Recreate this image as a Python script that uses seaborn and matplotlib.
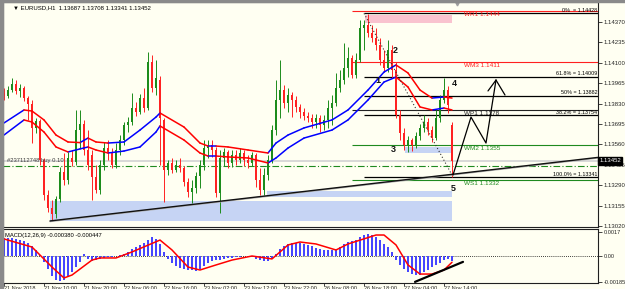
import numpy as np
import pandas as pd
import matplotlib
matplotlib.use("Agg")
import matplotlib.pyplot as plt
import matplotlib.transforms as mtransforms
from matplotlib.patches import Rectangle
import seaborn as sns

# ---- EURUSD H1 candles ----
opens = [1.13900, 1.13880, 1.13920, 1.13960, 1.13914, 1.13933, 1.13867, 1.13828, 1.13669, 1.13715,
         1.13457, 1.13225, 1.13139, 1.13099, 1.13199, 1.13377, 1.13324, 1.13470, 1.13444, 1.13655,
         1.13695, 1.13523, 1.13490, 1.13344, 1.13258, 1.13424, 1.13536, 1.13510, 1.13424, 1.13523,
         1.13589, 1.13688, 1.13708, 1.13801, 1.13775, 1.13867, 1.13801, 1.14106, 1.13933, 1.13986,
         1.13722, 1.13391, 1.13437, 1.13391, 1.13424, 1.13404, 1.13311, 1.13245, 1.13271, 1.13351,
         1.13424, 1.13536, 1.13556, 1.13523, 1.13238, 1.13470, 1.13510, 1.13437, 1.13490, 1.13457,
         1.13503, 1.13457, 1.13437, 1.13490, 1.13324, 1.13258, 1.13357, 1.13457, 1.13655, 1.13854,
         1.13920, 1.13834, 1.13887, 1.13854, 1.13808, 1.13775, 1.13748, 1.13735, 1.13708, 1.13735,
         1.13688, 1.13722, 1.13801, 1.13834, 1.13933, 1.13986, 1.14066, 1.14132, 1.14019, 1.14119,
         1.14331, 1.14350, 1.14298, 1.14264, 1.14218, 1.14119, 1.14066, 1.14185, 1.14053, 1.13755,
         1.13636, 1.13556, 1.13589, 1.13556, 1.13616, 1.13669, 1.13708, 1.13655, 1.13602, 1.13735,
         1.13854, 1.13920, 1.13687]
highs = [1.13933, 1.13947, 1.14000, 1.13986, 1.13960, 1.13947, 1.13880, 1.13854, 1.13735, 1.13728,
         1.13470, 1.13258, 1.13192, 1.13218, 1.13410, 1.13503, 1.13510, 1.13523, 1.13788, 1.13788,
         1.13722, 1.13655, 1.13523, 1.13424, 1.13457, 1.13576, 1.13589, 1.13536, 1.13569, 1.13622,
         1.13708, 1.13741, 1.13900, 1.13841, 1.13894, 1.13933, 1.14172, 1.14152, 1.14119, 1.14013,
         1.13735, 1.13457, 1.13470, 1.13457, 1.13470, 1.13417, 1.13338, 1.13324, 1.13377, 1.13457,
         1.13589, 1.13589, 1.13589, 1.13543, 1.13523, 1.13536, 1.13523, 1.13523, 1.13523, 1.13536,
         1.13523, 1.13490, 1.13510, 1.13503, 1.13404, 1.13404, 1.13490, 1.13688, 1.13986, 1.14119,
         1.13953, 1.13933, 1.13907, 1.13880, 1.13828, 1.13801, 1.13775, 1.13761, 1.13761, 1.13755,
         1.13755, 1.13854, 1.13887, 1.14033, 1.14053, 1.14231, 1.14205, 1.14152, 1.14165, 1.14384,
         1.14384, 1.14423, 1.14350, 1.14331, 1.14264, 1.14185, 1.14251, 1.14218, 1.14106, 1.13788,
         1.13669, 1.13616, 1.13602, 1.13642, 1.13695, 1.13755, 1.13735, 1.13682, 1.13788, 1.13887,
         1.14000, 1.13947, 1.13708]
lows = [1.13854, 1.13867, 1.13907, 1.13894, 1.13874, 1.13847, 1.13722, 1.13569, 1.13636, 1.13424,
        1.13192, 1.13113, 1.13053, 1.13073, 1.13179, 1.13291, 1.13298, 1.13417, 1.13424, 1.13536,
        1.13490, 1.13391, 1.13192, 1.13238, 1.13232, 1.13391, 1.13457, 1.13404, 1.13404, 1.13490,
        1.13556, 1.13642, 1.13688, 1.13748, 1.13761, 1.13775, 1.13788, 1.13907, 1.13887, 1.13424,
        1.13179, 1.13357, 1.13371, 1.13377, 1.13377, 1.13285, 1.13212, 1.13172, 1.13238, 1.13271,
        1.13391, 1.13470, 1.13477, 1.13212, 1.13106, 1.13417, 1.13404, 1.13410, 1.13424, 1.13437,
        1.13417, 1.13404, 1.13417, 1.13278, 1.13225, 1.13225, 1.13324, 1.13437, 1.13622, 1.13735,
        1.13801, 1.13775, 1.13741, 1.13775, 1.13735, 1.13722, 1.13708, 1.13669, 1.13669, 1.13642,
        1.13655, 1.13669, 1.13688, 1.13814, 1.13907, 1.13960, 1.14006, 1.14000, 1.14000, 1.14106,
        1.14185, 1.14271, 1.14238, 1.14185, 1.14086, 1.14039, 1.14039, 1.14000, 1.13735, 1.13589,
        1.13523, 1.13510, 1.13516, 1.13536, 1.13589, 1.13642, 1.13622, 1.13576, 1.13589, 1.13708,
        1.13834, 1.13768, 1.13341]
closes = [1.13880, 1.13920, 1.13960, 1.13914, 1.13933, 1.13867, 1.13828, 1.13669, 1.13715, 1.13457,
          1.13225, 1.13139, 1.13099, 1.13199, 1.13377, 1.13324, 1.13470, 1.13444, 1.13655, 1.13695,
          1.13523, 1.13424, 1.13344, 1.13258, 1.13424, 1.13536, 1.13510, 1.13424, 1.13523, 1.13589,
          1.13688, 1.13708, 1.13801, 1.13775, 1.13867, 1.13801, 1.14106, 1.13933, 1.14000, 1.13735,
          1.13391, 1.13437, 1.13391, 1.13424, 1.13404, 1.13311, 1.13245, 1.13271, 1.13351, 1.13424,
          1.13536, 1.13556, 1.13523, 1.13238, 1.13470, 1.13510, 1.13437, 1.13490, 1.13457, 1.13503,
          1.13457, 1.13437, 1.13490, 1.13324, 1.13258, 1.13357, 1.13457, 1.13655, 1.13854, 1.13920,
          1.13834, 1.13887, 1.13854, 1.13808, 1.13775, 1.13748, 1.13735, 1.13708, 1.13735, 1.13688,
          1.13722, 1.13801, 1.13834, 1.13933, 1.13986, 1.14066, 1.14132, 1.14019, 1.14119, 1.14331,
          1.14350, 1.14298, 1.14264, 1.14218, 1.14119, 1.14066, 1.14185, 1.14053, 1.13755, 1.13636,
          1.13556, 1.13589, 1.13556, 1.13616, 1.13669, 1.13708, 1.13655, 1.13602, 1.13735, 1.13854,
          1.13920, 1.13821, 1.13452]

# ---- colour-changing moving-average band (upper / lower) ----
ma_idx = [0, 5, 7, 10, 13, 16, 19, 21, 23, 26, 30, 34, 38, 39, 45, 49, 51, 53, 56, 61, 66, 68,
          71, 75, 82, 86, 91, 95, 98, 101, 104, 107, 110, 112]
ma_upper = [1.13702, 1.13788, 1.13781, 1.13722, 1.13622, 1.13576, 1.13572, 1.13602, 1.13576, 1.13569,
            1.13576, 1.13655, 1.13741, 1.13768, 1.13675, 1.13569, 1.13549, 1.13549, 1.13543, 1.13523,
            1.13503, 1.13569, 1.13622, 1.13669, 1.13722, 1.13788, 1.13920, 1.14039, 1.14086, 1.14033,
            1.13920, 1.13867, 1.13874, 1.13867]
ma_lower = [1.13622, 1.13722, 1.13708, 1.13642, 1.13543, 1.13510, 1.13530, 1.13543, 1.13523, 1.13503,
            1.13516, 1.13543, 1.13642, 1.13682, 1.13589, 1.13503, 1.13483, 1.13483, 1.13477, 1.13470,
            1.13437, 1.13470, 1.13536, 1.13602, 1.13655, 1.13722, 1.13854, 1.13973, 1.14006, 1.13940,
            1.13808, 1.13788, 1.13801, 1.13788]

# ---- MACD(12,26,9) ----
macd_main = [0.00129, 0.00129, 0.00128, 0.00122, 0.00114, 0.00107, 0.00093, 0.00072, 0.00043, 0.00007,
             -0.00043, -0.00093, -0.00143, -0.00172, -0.00179, -0.00172, -0.00143, -0.00114, -0.00079, -0.00043,
             0.00014, -0.00021, -0.00036, -0.00029, -0.00021, -0.00014, -0.00007, -0.00007, 0.00002, 0.00007,
             0.00014, 0.00029, 0.00050, 0.00064, 0.00079, 0.00093, 0.00114, 0.00136, 0.00122, 0.00086,
             0.00029, -0.00021, -0.00050, -0.00072, -0.00086, -0.00093, -0.00100, -0.00100, -0.00107, -0.00093,
             -0.00072, -0.00050, -0.00036, -0.00029, -0.00029, -0.00021, -0.00014, -0.00014, -0.00007, -0.00007,
             0.00001, -0.00007, -0.00007, -0.00021, -0.00029, -0.00036, -0.00036, -0.00021, 0.00014, 0.00050,
             0.00072, 0.00086, 0.00093, 0.00093, 0.00093, 0.00086, 0.00079, 0.00072, 0.00057, 0.00050,
             0.00043, 0.00043, 0.00043, 0.00050, 0.00064, 0.00086, 0.00100, 0.00107, 0.00114, 0.00136,
             0.00150, 0.00157, 0.00150, 0.00136, 0.00114, 0.00086, 0.00064, 0.00029, -0.00029, -0.00064,
             -0.00093, -0.00114, -0.00129, -0.00136, -0.00136, -0.00114, -0.00100, -0.00079, -0.00064, -0.00050,
             -0.00029, -0.00021, -0.00038]
sig_idx = [0, 7, 12, 15, 17, 22, 24, 28, 32, 39, 42, 46, 49, 53, 57, 62, 67, 71, 74, 78, 83, 86,
           93, 95, 98, 101, 104, 107, 110, 112]
sig_val = [0.00122, 0.00064, -0.00079, -0.00157, -0.00136, -0.00029, -0.00014, -0.00014, 0.00029, 0.00114,
           0.00043, -0.00079, -0.00100, -0.00064, -0.00029, 0.0, -0.00021, 0.00079, 0.00100, 0.00086,
           0.00043, 0.00086, 0.00150, 0.00150, 0.00079, -0.00064, -0.00129, -0.00129, -0.00100, -0.000447]

# ---- levels ----
pivot_names = ["WR1 1.1444", "WM3 1.1411", "WP1 1.1378", "WM2 1.1355", "WS1 1.1332"]
pivot_prices = [1.14444, 1.14106, 1.13785, 1.13553, 1.13324]
pivot_colors = ["#ff2020", "#ff2020", "#222222", "#1f8a1f", "#1f8a1f"]
fib_names = ["0%  = 1.14428", "61.8% = 1.14009", "50% = 1.13882", "38.2% = 1.13754", "100.0% = 1.13341"]
fib_prices = [1.14428, 1.14009, 1.13882, 1.13754, 1.13341]
price_ticks = [1.14370, 1.14235, 1.14100, 1.13965, 1.13830, 1.13695, 1.13560, 1.13425, 1.13290,
               1.13155, 1.13020]
time_labels = ["21 Nov 2018", "21 Nov 10:00", "21 Nov 20:00", "22 Nov 06:00", "22 Nov 16:00",
               "23 Nov 02:00", "23 Nov 12:00", "23 Nov 22:00", "26 Nov 08:00", "26 Nov 18:00",
               "27 Nov 04:00", "27 Nov 14:00"]
zones = [(11.5, 112, 1.13053, 1.13185, "#c6d4f4"), (65.75, 112, 1.13212, 1.13252, "#c6d4f4"),
         (100.25, 112, 1.13503, 1.13543, "#c6d4f4"), (90.25, 112, 1.14364, 1.14417, "#f9c3cf")]
trend_x = [11.5, 148.5]
trend_y = [1.13053, 1.13474]
wave_x = [90, 112]
wave_y = [1.14428, 1.13357]
path_x = [112.25, 116.75, 120.5, 123, 125.25]
path_y = [1.13357, 1.13741, 1.13569, 1.13986, 1.13887]
wave_labels = [("1", 93.5, 1.13980), ("2", 97.75, 1.14185), ("3", 97.25, 1.13523),
               ("4", 112.5, 1.13966), ("5", 112.25, 1.13271)]
last_price = 1.13452
order_price = 1.13417

BG = "#fffff2"
sns.set_style("white")
plt.rcParams["font.family"] = ["Liberation Sans", "DejaVu Sans"]

fig = plt.figure(figsize=(6.25, 2.89), dpi=100, facecolor=BG)
ax = fig.add_axes([3 / 625, 62 / 289, 595 / 625, 225 / 289], facecolor=BG)
ax2 = fig.add_axes([3 / 625, 6 / 289, 595 / 625, 54 / 289], facecolor=BG, sharex=ax)
fig.patches.append(Rectangle((0, 0), 2.5 / 625, 1, transform=fig.transFigure, color="#8a8a8a"))
fig.patches.append(Rectangle((0, 287.5 / 289), 1, 1.5 / 289, transform=fig.transFigure, color="#8a8a8a"))

n = len(closes)
idx = np.arange(n)
o = np.array(opens); c = np.array(closes)
up = c >= o
cols = np.where(up, "#1c8c1c", "#ff2222")

# zones first (behind candles)
for x0, x1, y0, y1, col in zones:
    ax.add_patch(Rectangle((x0, y0), x1 - x0, y1 - y0, color=col, lw=0, zorder=0.5))

# horizontal levels
for name, p, col in zip(pivot_names, pivot_prices, pivot_colors):
    ax.hlines(p, 87, 149, color=col, lw=0.8, zorder=1)
    ax.text(119.5, p - 0.00005, name, color=col, fontsize=4.6, ha="center", va="top", zorder=5)
for name, p in zip(fib_names, fib_prices):
    ax.hlines(p, 90, 149, color="black", lw=0.9, zorder=1)
    ax.text(148.3, p + 0.00003, name, color="black", fontsize=3.9, ha="right", va="bottom", zorder=5)

# bid line and order line
ax.axhline(last_price, color="#d8d8d8", lw=1.4, zorder=0.8)
ax.axhline(order_price, color="#1f8a1f", lw=0.8, ls=(0, (6, 2, 1, 2)), zorder=0.9)
ax.text(0.8, last_price, "#237112748 buy 0.10", fontsize=4.2, color="#404040", va="center", ha="left")

# moving average band, coloured by direction
rows = []
for name, vals in (("u", ma_upper), ("l", ma_lower)):
    for k in range(len(ma_idx) - 1):
        d = "up" if vals[k + 1] >= vals[k] else "down"
        rows.append((name + str(k), d, ma_idx[k], vals[k]))
        rows.append((name + str(k), d, ma_idx[k + 1], vals[k + 1]))
ma = pd.DataFrame(rows, columns=["seg", "dir", "bar", "price"])
sns.lineplot(data=ma, x="bar", y="price", hue="dir", units="seg", estimator=None, sort=False,
             palette={"up": "#0000ff", "down": "#ff0000"}, linewidth=1.1, legend=False, ax=ax, zorder=3)

# candles
ax.vlines(idx, lows, highs, colors=cols, lw=0.7, zorder=2)
body = np.maximum(np.abs(c - o), 0.00002)
ax.bar(idx, body, bottom=np.minimum(o, c), width=0.5, color=cols, lw=0, zorder=2.5)

# trend line, wave line, arrow path
ax.plot(trend_x, np.array(trend_y) - 0.00004, color="#b0b0b0", lw=1.0, zorder=3)
ax.plot(trend_x, trend_y, color="#111111", lw=1.0, zorder=3.1)
ax.plot(wave_x, wave_y, color="#333333", lw=0.8, ls=(0, (1, 2)), zorder=3)
ax.plot(path_x[:4], path_y[:4], color="black", lw=0.9, zorder=4)
ax.plot([path_x[3], path_x[4]], [path_y[3], path_y[4]], color="black", lw=0.9, zorder=4)
ax.plot([path_x[3], 121.0], [path_y[3], 1.13914], color="black", lw=0.9, zorder=4)
for txt, xx, yy in wave_labels:
    ax.text(xx, yy, txt, fontsize=6.5, fontweight="bold", color="#111111", ha="center", va="center", zorder=6)

ax.text(0.016, 0.985, "\u25bc EURUSD,H1  1.13687 1.13708 1.13341 1.13452", transform=ax.transAxes,
        fontsize=4.3, va="top", ha="left", color="black")
ax.plot([113.3], [1.14495], marker="v", color="#a0a0a0", ms=3.5, clip_on=False)

ax.set_xlim(-0.25, 148.5)
ax.set_ylim(1.13013, 1.14503)
ax.yaxis.tick_right()
ax.set_yticks(price_ticks)
ax.set_yticklabels(["%.5f" % p for p in price_ticks])
ax.tick_params(axis="y", length=3, width=0.6, pad=1, labelsize=4.3, direction="out", right=True)
ax.tick_params(axis="x", bottom=False, labelbottom=False)
ax.set_xlabel(""); ax.set_ylabel("")

trans = mtransforms.blended_transform_factory(ax.transAxes, ax.transData)
ax.text(1.002, last_price, "1.13452", transform=trans, fontsize=4.3, color="white", va="center", ha="left",
        bbox=dict(boxstyle="square,pad=0.25", fc="black", ec="black"), clip_on=False, zorder=10)

# MACD panel
ax2.bar(idx, macd_main, width=0.35, color="#4646ff", lw=0, zorder=2)
sns.lineplot(x=sig_idx, y=sig_val, color="#ff0000", linewidth=1.1, ax=ax2, zorder=3)
ax2.axhline(0, color="black", lw=0.6, ls=(0, (1, 1.5)), zorder=1)
ax2.plot([102.75, 114.75], [-0.00185, -0.00042], color="black", lw=1.6, zorder=4)
ax2.text(0.003, 0.93, "MACD(12,26,9) -0.000380 -0.000447", transform=ax2.transAxes, fontsize=4.2,
         va="top", ha="left", color="black")
ax2.set_ylim(-0.00193, 0.00193)
ax2.yaxis.tick_right()
ax2.set_yticks([0.0017, 0.0, -0.00185])
ax2.set_yticklabels(["0.0017", "0.00", "-0.00185"])
ax2.tick_params(axis="y", length=3, width=0.6, pad=1, labelsize=4.1, direction="out", right=True)
ax2.set_xticks(np.arange(0, n, 10))
ax2.set_xticklabels(time_labels, ha="left")
ax2.tick_params(axis="x", length=2, width=0.6, pad=0.5, labelsize=4.0, direction="out", bottom=True)
ax2.set_xlabel(""); ax2.set_ylabel("")

for a in (ax, ax2):
    for s in a.spines.values():
        s.set_color("#202020")
        s.set_linewidth(0.8)

fig.savefig("out.png", dpi=100, facecolor=BG)
